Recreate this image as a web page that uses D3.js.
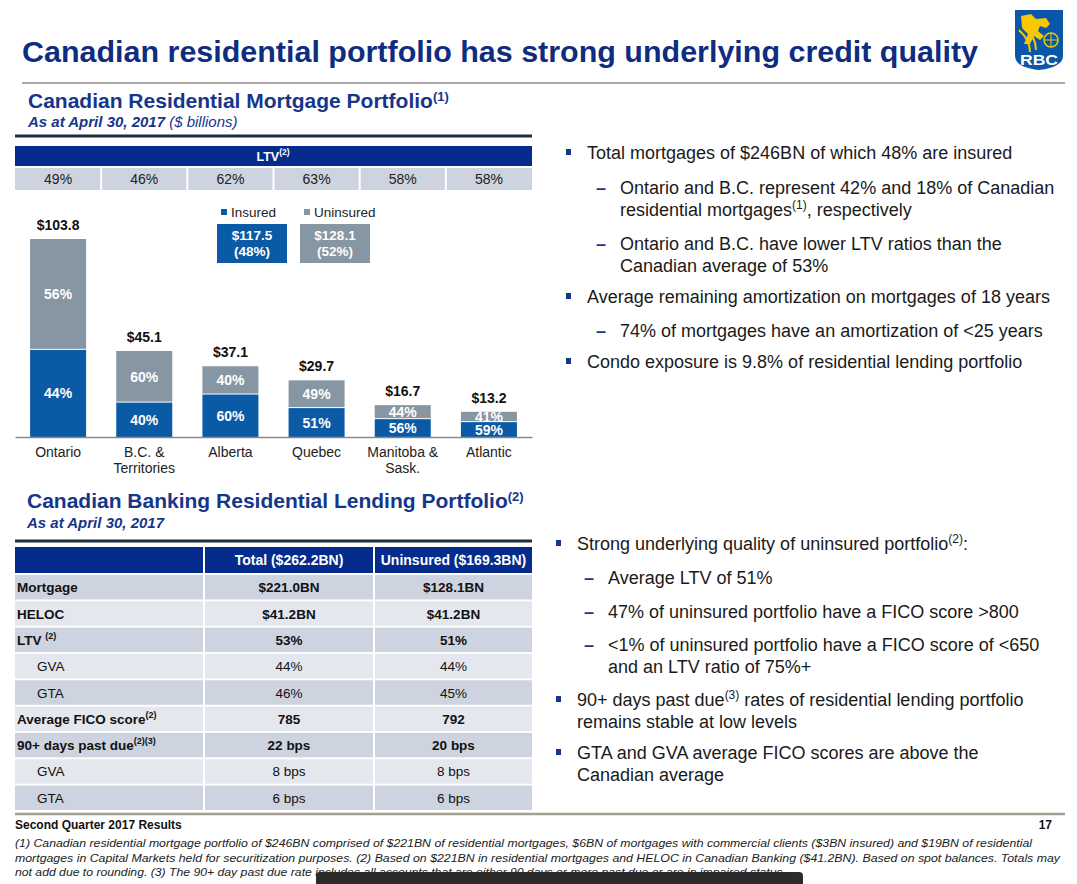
<!DOCTYPE html>
<html><head><meta charset="utf-8">
<script src="https://cdn.jsdelivr.net/npm/d3@7"></script>
<style>
body{margin:0;background:#fff;}
svg{display:block;font-family:"Liberation Sans",Arial,sans-serif;}
</style></head><body><svg id="c" width="1077" height="884"></svg>
<script>
// ---------- data ----------
const regions = ["Ontario","B.C. &|Territories","Alberta","Quebec","Manitoba &|Sask.","Atlantic"];
const totals = [103.8,45.1,37.1,29.7,16.7,13.2];
const insuredPct = [44,40,60,51,56,59];
const uninsuredPct = [56,60,40,49,44,41];
const ltvPct = [49,46,62,63,58,58];
const seriesNames = ["Insured","Uninsured"];
const seriesTotals = ["$117.5","$128.1"];
const seriesShares = ["(48%)","(52%)"];

const tableCols = ["","Total ($262.2BN)","Uninsured ($169.3BN)"];
const rowLabels = ["Mortgage","HELOC","LTV ","GVA","GTA","Average FICO score","90+ days past due","GVA","GTA"];
const rowNotes = ["","","(2)","","","(2)","(2)(3)","",""];
const rowBold = [1,1,1,0,0,1,1,0,0];
const totalCol = ["$221.0BN","$41.2BN","53%","44%","46%","785","22 bps","8 bps","6 bps"];
const uninsuredCol = ["$128.1BN","$41.2BN","51%","44%","45%","792","20 bps","8 bps","6 bps"];

const bulletsTop = [
  {lvl:0, lines:["Total mortgages of $246BN of which 48% are insured"]},
  {lvl:1, lines:["Ontario and B.C. represent 42% and 18% of Canadian","residential mortgages[(1)], respectively"]},
  {lvl:1, lines:["Ontario and B.C. have lower LTV ratios than the","Canadian average of 53%"]},
  {lvl:0, lines:["Average remaining amortization on mortgages of 18 years"]},
  {lvl:1, lines:["74% of mortgages have an amortization of <25 years"]},
  {lvl:0, lines:["Condo exposure is 9.8% of residential lending portfolio"]}
];
const bulletsTopY = [159,194,250,303,337,368];
const bulletsBottom = [
  {lvl:0, lines:["Strong underlying quality of uninsured portfolio[(2)]:"]},
  {lvl:1, lines:["Average LTV of 51%"]},
  {lvl:1, lines:["47% of uninsured portfolio have a FICO score >800"]},
  {lvl:1, lines:["<1% of uninsured portfolio have a FICO score of <650","and an LTV ratio of 75%+"]},
  {lvl:0, lines:["90+ days past due[(3)] rates of residential lending portfolio","remains stable at low levels"]},
  {lvl:0, lines:["GTA and GVA average FICO scores are above the","Canadian average"]}
];
const bulletsBottomY = [550,584,618,651,706,759];

const footnotes = [
 "(1) Canadian residential mortgage portfolio of $246BN comprised of $221BN of residential mortgages, $6BN of mortgages with commercial clients ($3BN insured) and $19BN of residential",
 "mortgages in Capital Markets held for securitization purposes. (2) Based on $221BN in residential mortgages and HELOC in Canadian Banking ($41.2BN). Based on spot balances. Totals may",
 "not add due to rounding. (3) The 90+ day past due rate includes all accounts that are either 90 days or more past due or are in impaired status."
];
const footnoteEnds = [1032,1060,786];

// ---------- colors ----------
const NAVY = "#0f2d80", HEAD = "#16368a", BAR_NAVY = "#052c8c";
const BLUE = "#0b5aa5", GRAY = "#8796a3", CELL = "#cdd3df", CELL2 = "#e4e7ee";

const svg = d3.select("#c");

// rich text helper: [..] = superscript
function rich(sel, str, supSize, rise){
  rise = rise || 6;
  const parts = str.split(/(\[[^\]]*\])/).filter(s=>s.length);
  let up = false;
  parts.forEach(p=>{
    if(p[0]==="["){
      sel.append("tspan").attr("font-size",supSize).attr("dy",-rise).text(p.slice(1,-1));
      up = true;
    } else {
      const t = sel.append("tspan").text(p);
      if(up){ t.attr("dy",rise); up=false; }
    }
  });
}

// ---------- title ----------
svg.append("text").attr("x",22).attr("y",62).attr("font-size",29).attr("font-weight","bold")
  .attr("fill",NAVY).attr("textLength",956).attr("lengthAdjust","spacingAndGlyphs")
  .text("Canadian residential portfolio has strong underlying credit quality");
svg.append("line").attr("x1",22).attr("x2",1065).attr("y1",83).attr("y2",83)
  .attr("stroke","#a8a8a8").attr("stroke-width",2);

// logo
const lg = svg.append("g");
lg.append("path").attr("d","M1015,10 H1063 V56 Q1063,67 1039,70 Q1015,67 1015,56 Z").attr("fill","#0a56a8");
lg.append("path").attr("d","M1021,16 L1031,14 L1036,19 L1046,18 L1050,24 L1046,28 L1040,26 L1038,31 L1044,36 L1040,40 L1034,36 L1030,44 L1024,44 L1028,34 L1022,28 Z")
  .attr("fill","#f5c800");
lg.append("path").attr("d","M1019,30 Q1030,40 1030,52 M1023,26 Q1036,36 1036,50").attr("stroke","#f5c800").attr("stroke-width",2).attr("fill","none");
lg.append("circle").attr("cx",1051).attr("cy",40).attr("r",7).attr("fill","none").attr("stroke","#f5c800").attr("stroke-width",1.5);
lg.append("path").attr("d","M1044,40 H1058 M1051,33 V47").attr("stroke","#f5c800").attr("stroke-width",1);
lg.append("text").attr("x",1039).attr("y",65).attr("text-anchor","middle").attr("font-size",14)
  .attr("font-weight","bold").attr("fill","#fff").attr("textLength",38).attr("lengthAdjust","spacingAndGlyphs").text("RBC");

// ---------- section 1 ----------
const h1 = svg.append("text").attr("x",28).attr("y",108).attr("font-size",21).attr("font-weight","bold").attr("fill",HEAD);
rich(h1,"Canadian Residential Mortgage Portfolio[(1)]",13,7);
const s1 = svg.append("text").attr("x",28).attr("y",127).attr("font-size",15).attr("font-style","italic").attr("fill",HEAD);
s1.append("tspan").attr("font-weight","bold").text("As at April 30, 2017 ");
s1.append("tspan").text("($ billions)");
svg.append("line").attr("x1",15).attr("x2",532).attr("y1",136).attr("y2",136).attr("stroke","#1c2f3c").attr("stroke-width",3);

// LTV header
svg.append("rect").attr("x",15).attr("y",146).attr("width",517).attr("height",20).attr("fill",BAR_NAVY);
const lt = svg.append("text").attr("x",273).attr("y",161).attr("text-anchor","middle").attr("font-size",12.5).attr("font-weight","bold").attr("fill","#fff");
rich(lt,"LTV[(2)]",8.5);

const xc = d3.scaleBand().domain(d3.range(regions.length)).range([15,532]);
svg.append("g").selectAll("rect").data(ltvPct).join("rect")
  .attr("x",(d,i)=>xc(i)+(i?1:0)).attr("y",168).attr("width",(d,i)=>xc.bandwidth()-(i?1:0)-(i<5?1:0)).attr("height",22).attr("fill",CELL);
svg.append("g").selectAll("text").data(ltvPct).join("text")
  .attr("x",(d,i)=>xc(i)+xc.bandwidth()/2).attr("y",184).attr("text-anchor","middle").attr("font-size",14).attr("fill","#222")
  .text(d=>d+"%");

// bar chart
const x = d3.scaleBand().domain(d3.range(regions.length)).range([15,532]).paddingInner(0.35).paddingOuter(0.175);
const y = d3.scaleLinear().domain([0,103.8]).range([437,239]);
const bars = svg.append("g");
regions.forEach((r,i)=>{
  const ins = totals[i]*insuredPct[i]/100;
  bars.append("rect").attr("x",x(i)).attr("width",x.bandwidth()).attr("y",y(ins)).attr("height",y(0)-y(ins)).attr("fill",BLUE);
  bars.append("rect").attr("x",x(i)).attr("width",x.bandwidth()).attr("y",y(totals[i])).attr("height",y(ins)-y(totals[i])-1).attr("fill",GRAY);
  const cx = x(i)+x.bandwidth()/2;
  bars.append("text").attr("x",cx).attr("y",(y(ins)+y(0))/2+5).attr("text-anchor","middle").attr("font-size",14)
    .attr("font-weight","bold").attr("fill","#fff").text(insuredPct[i]+"%");
  bars.append("text").attr("x",cx).attr("y",(y(ins)+y(totals[i]))/2+5).attr("text-anchor","middle").attr("font-size",14)
    .attr("font-weight","bold").attr("fill","#fff").text(uninsuredPct[i]+"%");
  bars.append("text").attr("x",cx).attr("y",y(totals[i])-9).attr("text-anchor","middle").attr("font-size",14)
    .attr("font-weight","bold").attr("fill","#111").text("$"+totals[i].toFixed(1));
});
const ax = svg.append("g").attr("transform","translate(0,437)")
  .call(d3.axisBottom(xc).tickSize(0).tickSizeOuter(0).tickFormat(""));
ax.select(".domain").attr("stroke","#8a8a8a").attr("stroke-width",1.5);
ax.selectAll(".tick").each(function(d){
  const t = d3.select(this).append("text").attr("fill","#222").attr("font-size",14).attr("text-anchor","middle");
  regions[d].split("|").forEach((ln,k)=>t.append("tspan").attr("x",0).attr("y",20+k*16).text(ln));
});

// legend + summary boxes
const legX = [221,304];
[BLUE,GRAY].forEach((c,k)=>{
  svg.append("rect").attr("x",legX[k]).attr("y",209).attr("width",6).attr("height",6).attr("fill",c);
  svg.append("text").attr("x",legX[k]+10).attr("y",217).attr("font-size",13.5).attr("fill","#222").text(seriesNames[k]);
  const bx = [217,300][k];
  svg.append("rect").attr("x",bx).attr("y",224).attr("width",70).attr("height",39).attr("fill",c);
  svg.append("text").attr("x",bx+35).attr("y",240).attr("text-anchor","middle").attr("font-size",13.5).attr("font-weight","bold").attr("fill","#fff").text(seriesTotals[k]);
  svg.append("text").attr("x",bx+35).attr("y",256).attr("text-anchor","middle").attr("font-size",13.5).attr("font-weight","bold").attr("fill","#fff").text(seriesShares[k]);
});

// ---------- section 2 ----------
const h2 = svg.append("text").attr("x",27).attr("y",508).attr("font-size",21).attr("font-weight","bold").attr("fill",HEAD);
rich(h2,"Canadian Banking Residential Lending Portfolio[(2)]",13,7);
svg.append("text").attr("x",27).attr("y",528).attr("font-size",15).attr("font-style","italic").attr("font-weight","bold").attr("fill",HEAD).text("As at April 30, 2017");
svg.append("line").attr("x1",15).attr("x2",532).attr("y1",541).attr("y2",541).attr("stroke","#1c2f3c").attr("stroke-width",3);

const colX = [15,205,375], colW = [188,168,157];
colX.forEach((cx,j)=>{
  svg.append("rect").attr("x",cx).attr("y",547).attr("width",colW[j]).attr("height",26).attr("fill",BAR_NAVY);
  if(tableCols[j]) svg.append("text").attr("x",cx+colW[j]/2).attr("y",565).attr("text-anchor","middle")
     .attr("font-size",14).attr("font-weight","bold").attr("fill","#fff").text(tableCols[j]);
});
const rowY = d3.scaleBand().domain(d3.range(rowLabels.length)).range([575,810]).paddingInner(0.07);
rowLabels.forEach((lab,i)=>{
  const ry = rowY(i), rh = rowY.bandwidth();
  colX.forEach((cx,j)=>{
    svg.append("rect").attr("x",cx).attr("y",ry).attr("width",colW[j]).attr("height",rh).attr("fill",i%2?CELL2:CELL);
  });
  const ty = ry+rh/2+5;
  const lt = svg.append("text").attr("x",rowBold[i]?17:37).attr("y",ty).attr("font-size",13.5)
    .attr("font-weight",rowBold[i]?"bold":"normal").attr("fill","#111");
  rich(lt, lab + (rowNotes[i]?"["+rowNotes[i]+"]":""), 9);
  [totalCol[i],uninsuredCol[i]].forEach((v,k)=>{
    svg.append("text").attr("x",colX[k+1]+colW[k+1]/2).attr("y",ty).attr("text-anchor","middle").attr("font-size",13.5)
      .attr("font-weight",rowBold[i]?"bold":"normal").attr("fill","#111").text(v);
  });
});

// ---------- bullets ----------
function drawBullets(list, ys, bx, tx, dx, dtx){
  list.forEach((b,i)=>{
    const yy = ys[i];
    if(b.lvl===0){
      svg.append("rect").attr("x",bx).attr("y",yy-10).attr("width",5).attr("height",6).attr("fill",HEAD);
    } else {
      svg.append("text").attr("x",dx).attr("y",yy).attr("font-size",18).attr("font-weight","bold").attr("fill",HEAD).text("–");
    }
    b.lines.forEach((ln,k)=>{
      const t = svg.append("text").attr("x",b.lvl?dtx:tx).attr("y",yy+k*22).attr("font-size",18).attr("fill","#1a1a1a");
      rich(t, ln, 12, 7);
    });
  });
}
drawBullets(bulletsTop, bulletsTopY, 566, 587, 596, 620);
drawBullets(bulletsBottom, bulletsBottomY, 556, 577, 584, 608);

// ---------- footer ----------
svg.append("line").attr("x1",15).attr("x2",1065).attr("y1",814).attr("y2",814).attr("stroke","#a39e92").attr("stroke-width",2.5);
svg.append("text").attr("x",15).attr("y",829).attr("font-size",12).attr("font-weight","bold").attr("fill","#111").text("Second Quarter 2017 Results");
svg.append("text").attr("x",1052).attr("y",829).attr("text-anchor","end").attr("font-size",12).attr("font-weight","bold").attr("fill","#111").text("17");
footnotes.forEach((f,i)=>{
  svg.append("text").attr("x",15).attr("y",847+i*14.5).attr("font-size",11.5).attr("font-style","italic").attr("fill","#222")
    .attr("textLength",footnoteEnds[i]-15).attr("lengthAdjust","spacingAndGlyphs").text(f);
});
svg.append("path").attr("d","M316,884 V876 Q316,872 320,872 H799 Q803,872 803,876 V884 Z").attr("fill","#2b2b2b");
</script></body></html>
